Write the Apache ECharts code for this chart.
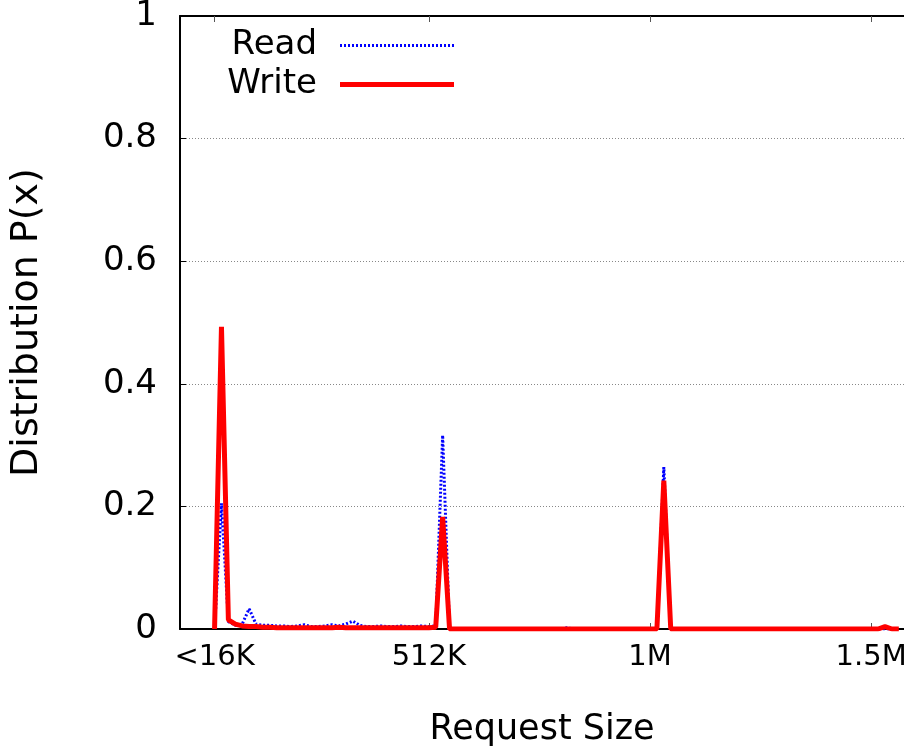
<!DOCTYPE html>
<html>
<head>
<meta charset="utf-8">
<script src="https://cdn.jsdelivr.net/npm/echarts@6/dist/echarts.min.js"></script>
<style>
  html, body { margin: 0; padding: 0; background: #fff; }
  #chart { width: 904px; height: 746px; }
</style>
</head>
<body>
<div id="chart"></div>
<script>
// request size bins, KB (16K steps)
const sizesKB = [
  16, 32, 48, 64, 80, 96, 112, 128, 144, 160,
  176, 192, 208, 224, 240, 256, 272, 288, 304, 320,
  336, 352, 368, 384, 400, 416, 432, 448, 464, 480,
  496, 512, 528, 544, 560, 576, 592, 608, 624, 640,
  656, 672, 688, 704, 720, 736, 752, 768, 784, 800,
  816, 832, 848, 864, 880, 896, 912, 928, 944, 960,
  976, 992, 1008, 1024, 1040, 1056, 1072, 1088, 1104, 1120,
  1136, 1152, 1168, 1184, 1200, 1216, 1232, 1248, 1264, 1280,
  1296, 1312, 1328, 1344, 1360, 1376, 1392, 1408, 1424, 1440,
  1456, 1472, 1488, 1504, 1520, 1536, 1552, 1568, 1584, 1600
];
// P(x) read
const readVals = [
  0, 0.205, 0.012, 0.006, 0.008, 0.033, 0.008, 0.006, 0.006, 0.005,
  0.005, 0.004, 0.005, 0.007, 0.004, 0.004, 0.005, 0.007, 0.005, 0.008,
  0.013, 0.006, 0.004, 0.004, 0.005, 0.004, 0.004, 0.005, 0.004, 0.004,
  0.005, 0.004, 0.005, 0.316, 0, 0, 0, 0, 0, 0,
  0, 0, 0, 0, 0, 0, 0, 0, 0, 0,
  0, 0.002, 0, 0, 0, 0, 0, 0, 0, 0,
  0, 0, 0, 0, 0, 0.264, 0, 0, 0, 0,
  0, 0, 0, 0, 0, 0, 0, 0, 0, 0,
  0, 0, 0, 0, 0, 0, 0, 0, 0, 0,
  0, 0, 0, 0, 0, 0, 0, 0, 0, 0
];
// P(x) write
const writeVals = [
  0, 0.493, 0.015, 0.008, 0.005, 0.004, 0.004, 0.003, 0.003, 0.002,
  0.002, 0.002, 0.002, 0.002, 0.002, 0.002, 0.002, 0.002, 0.003, 0.002,
  0.002, 0.002, 0.002, 0.002, 0.002, 0.002, 0.002, 0.002, 0.002, 0.002,
  0.002, 0.002, 0.003, 0.183, 0, 0, 0, 0, 0, 0,
  0, 0, 0, 0, 0, 0, 0, 0, 0, 0,
  0, 0, 0, 0, 0, 0, 0, 0, 0, 0,
  0, 0, 0, 0, 0, 0.242, 0, 0, 0, 0,
  0, 0, 0, 0, 0, 0, 0, 0, 0, 0,
  0, 0, 0, 0, 0, 0, 0, 0, 0, 0,
  0, 0, 0, 0, 0, 0, 0, 0.004, 0, 0
];
const xTickValues = [16, 512, 1024, 1536];
const xTickLabels = ["<16K", "512K", "1M", "1.5M"];
const yTicks = [0, 0.2, 0.4, 0.6, 0.8, 1];

const font = "DejaVu Sans";
const pair = (vals) => sizesKB.map((s, i) => [s, vals[i]]);

const readLine = { color: "#0000ff", width: 3, type: [2, 2] };
const writeLine = { color: "#ff0000", width: 5, type: "solid" };

const chart = echarts.init(document.getElementById("chart"));
chart.setOption({
  animation: false,
  backgroundColor: "#fff",
  textStyle: { fontFamily: font },
  grid: { left: 180, top: 16, right: 0, bottom: 117, containLabel: false, outerBoundsMode: "none" },
  legend: {
    orient: "vertical",
    align: "right",
    left: 221,
    top: 21,
    itemWidth: 114,
    itemHeight: 14,
    itemGap: 0,
    itemStyle: { opacity: 0 },
    textStyle: {
      fontFamily: font, fontSize: 34, color: "#000",
      lineHeight: 39, width: 91, align: "right", padding: [0, 18, 0, 0],
    },
    data: [
      { name: "Read", lineStyle: readLine },
      { name: "Write", lineStyle: writeLine },
    ],
  },
  xAxis: [
    {
      type: "value",
      min: -64,
      max: 1612,
      name: "Request Size",
      nameLocation: "middle",
      nameGap: 83,
      nameTextStyle: { fontFamily: font, fontSize: 35, color: "#000" },
      axisLine: { show: true, lineStyle: { color: "#000", width: 2 } },
      axisTick: { show: true, inside: true, length: 6, customValues: xTickValues, lineStyle: { color: "#555" } },
      axisLabel: {
        customValues: xTickValues,
        fontSize: 29,
        color: "#000",
        margin: 14,
        formatter: (v) => xTickLabels[xTickValues.indexOf(v)] || "",
      },
      splitLine: { show: false },
    },
    {
      type: "value",
      position: "top",
      min: -64,
      max: 1612,
      axisLine: { show: true, onZero: false, lineStyle: { color: "#000", width: 2 } },
      axisTick: { show: true, inside: true, length: 6, customValues: xTickValues, lineStyle: { color: "#555" } },
      axisLabel: { show: false },
      splitLine: { show: false },
    },
  ],
  yAxis: {
    type: "value",
    min: 0,
    max: 1,
    interval: 0.2,
    name: "Distribution P(x)",
    nameLocation: "middle",
    nameRotate: 90,
    nameGap: 134,
    nameTextStyle: { fontFamily: font, fontSize: 38, color: "#000" },
    axisLine: { show: true, onZero: false, lineStyle: { color: "#000", width: 2 } },
    axisTick: { show: true, inside: true, length: 6, lineStyle: { color: "#000" } },
    axisLabel: {
      fontSize: 34,
      color: "#000",
      margin: 23,
      formatter: (v) => (yTicks.includes(+v.toFixed(1)) ? String(+v.toFixed(1)) : ""),
    },
    splitLine: { show: true, lineStyle: { color: "#888", type: [1, 2], width: 1 } },
  },
  series: [
    {
      name: "Read",
      type: "line",
      xAxisIndex: 0,
      data: pair(readVals),
      symbol: "none",
      z: 2,
      lineStyle: readLine,
      itemStyle: { color: "#0000ff" },
    },
    {
      name: "Write",
      type: "line",
      xAxisIndex: 0,
      data: pair(writeVals),
      symbol: "none",
      z: 3,
      lineStyle: writeLine,
      itemStyle: { color: "#ff0000" },
    },
  ],
});
</script>
</body>
</html>
